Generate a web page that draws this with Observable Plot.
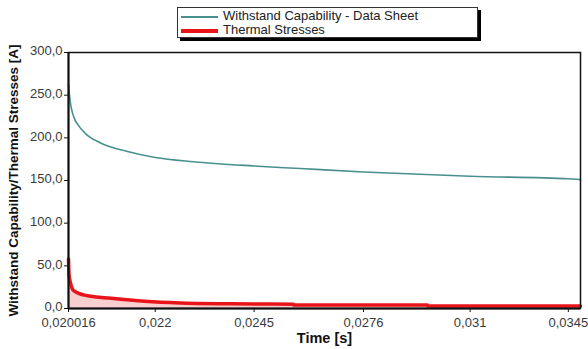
<!DOCTYPE html>
<html>
<head>
<meta charset="utf-8">
<script src="https://cdn.jsdelivr.net/npm/d3@7"></script>
<script src="https://cdn.jsdelivr.net/npm/@observablehq/plot@0.6"></script>
<style>
  html, body { margin: 0; padding: 0; background: #fff; }
  #wrap { position: relative; width: 588px; height: 349px; font-family: "Liberation Sans", Arial, sans-serif; }
  #legend { position: absolute; left: 177px; top: 7px; width: 299px; height: 29px; border: 1px solid #333; background: #fff; box-shadow: 3px 3px 0 #000; font-size: 13px; color: #222; z-index: 2; }
  .item { position: absolute; left: 3px; height: 14px; line-height: 14px; }
  .sw { display: inline-block; width: 37px; vertical-align: middle; margin-right: 5px; }
  svg g[aria-label="y-axis label"] text { font-weight: bold; fill: #111; font-size: 13.5px; }
  svg g[aria-label="x-axis label"] text { font-weight: bold; fill: #111; font-size: 14.5px; }
  svg g[aria-label="y-axis tick label"] text, svg g[aria-label="x-axis tick label"] text { fill: #3a3a3a; }
</style>
</head>
<body>
<div id="wrap">
  <div id="legend">
    <div class="item" style="top:1px"><span class="sw" style="border-top:2px solid #4a8f8f"></span>Withstand Capability - Data Sheet</div>
    <div class="item" style="top:15px"><span class="sw" style="border-top:4px solid #e8141a"></span>Thermal Stresses</div>
  </div>
</div>
<script>
// Withstand Capability - Data Sheet
const withstandTime = [0.020016, 0.020060, 0.020104, 0.020158, 0.020213, 0.020390, 0.020726, 0.021345, 0.022, 0.022936, 0.0245, 0.025771, 0.0276, 0.031, 0.0345, 0.03496];
const withstandValue = [262, 240, 229, 221, 216, 205, 194, 184, 177, 172, 167, 164, 160, 155, 152, 151];

// Thermal Stresses
const thermalTime = [0.020016, 0.020027, 0.020060, 0.020125, 0.020279, 0.020435, 0.020966, 0.021751, 0.022609, 0.023879, 0.025575, 0.025580, 0.029596, 0.029600, 0.03496];
const thermalValue = [58, 40, 30, 21, 17, 15, 12, 8.5, 6.5, 5.5, 5, 4, 4, 3, 3];

const xTicks = [0.020016, 0.022, 0.0245, 0.0276, 0.031, 0.0345];
const yTicks = [0, 50, 100, 150, 200, 250, 300];

const withstand = withstandTime.map((t, i) => ({t, v: withstandValue[i]}));
const thermal = thermalTime.map((t, i) => ({t, v: thermalValue[i]}));

const comma = s => String(s).replace(".", ",");

const chart = Plot.plot({
  width: 588,
  height: 349,
  marginLeft: 68,
  marginRight: 8,
  marginTop: 52,
  marginBottom: 41,
  style: {fontFamily: "Liberation Sans, Arial, sans-serif", fontSize: "13px", color: "#444", background: "transparent"},
  x: {type: "log", domain: [0.020016, 0.03496]},
  y: {domain: [0, 300]},
  marks: [
    Plot.areaY(thermal, {x: "t", y: "v", fill: "#f7cfcf", curve: "monotone-x"}),
    Plot.line(thermal, {x: "t", y: "v", stroke: "#e8141a", strokeWidth: 3.5, curve: "monotone-x"}),
    Plot.line(withstand, {x: "t", y: "v", stroke: "#4a8f8f", strokeWidth: 1.6, curve: "monotone-x"}),
    Plot.frame({stroke: "#111", strokeWidth: 1.5}),
    Plot.axisY(yTicks, {tickSize: 4, stroke: "#111", fill: "none"}),
    Plot.axisY(yTicks, {tickSize: 0, tickPadding: 6, dy: -1.5, tickFormat: d => comma(d.toFixed(1)), fontSize: 13, label: "Withstand Capability/Thermal Stresses [A]", labelAnchor: "center", labelArrow: "none", labelOffset: 60}),
    Plot.axisX({ticks: xTicks, tickFormat: d => comma(d), tickSize: 4, tickPadding: 5, stroke: "#111", label: "Time [s]", labelAnchor: "center", labelArrow: "none", labelOffset: 34, fontSize: 13}),
    Plot.ruleX([0.020016], {stroke: "#111", strokeWidth: 2}),
    Plot.ruleY([0], {stroke: "#111", strokeWidth: 2})
  ]
});
document.getElementById("wrap").appendChild(chart);
chart.style.position = "absolute";
chart.style.left = "0";
chart.style.top = "0";
</script>
</body>
</html>
